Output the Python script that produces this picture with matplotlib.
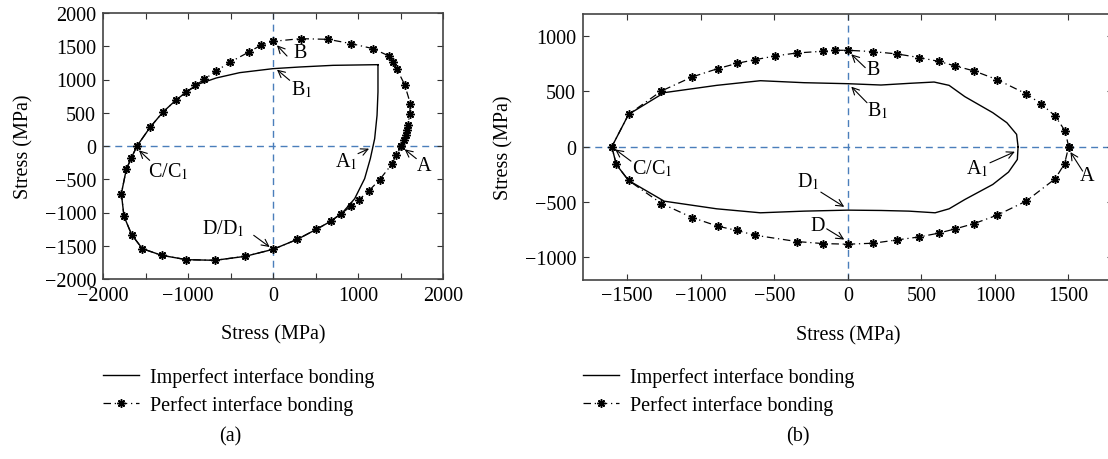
import numpy as np
import matplotlib.pyplot as plt

plt.rcParams['font.family'] = ['Liberation Serif', 'DejaVu Serif']
plt.rcParams['mathtext.fontset'] = 'stix'
plt.rcParams['axes.unicode_minus'] = True

# ---- panel (a) data ----
a_perf_x = [1510, 1541, 1561, 1577, 1588, 1608, 1616, 1549, 1459, 1412, 1365, 1177, 922, 647, 326, 0,
            -145, -282, -502, -675, -808, -914, -1020, -1145, -1294, -1443, -1600, -1667, -1726, -1784,
            -1753, -1663, -1537, -1310, -1020, -682, -326, 0, 286, 510, 678, 804, 914, 1012, 1126, 1255,
            1396, 1451, 1510]
a_perf_y = [0, 85, 160, 236, 311, 486, 637, 922, 1153, 1263, 1353, 1464, 1539, 1604, 1614, 1574,
            1514, 1414, 1263, 1123, 1003, 912, 812, 687, 511, 286, 0, -180, -351, -717,
            -1058, -1333, -1544, -1644, -1709, -1719, -1659, -1554, -1404, -1253, -1133, -1018, -907, -807, -677, -506,
            -276, -140, 0]
a_imp_x = [1235, 706, 314, 0, -392, -667, -863, -1020, -1145, -1294, -1443, -1600, -1667, -1726, -1784,
           -1753, -1663, -1537, -1310, -1020, -682, -326, 0, 286, 510, 678, 824, 961, 1078, 1145, 1196,
           1224, 1235, 1235]
a_imp_y = [1223, 1213, 1188, 1163, 1103, 1023, 937, 812, 687, 511, 286, 0, -180, -351, -717,
           -1058, -1333, -1544, -1644, -1709, -1719, -1659, -1554, -1404, -1253, -1133, -993, -792, -491, -190, 110,
           461, 812, 1223]

# ---- panel (b) data ----
b_perf_x = [1502, 1478, 1410, 1314, 1212, 1017, 860, 732, 618, 487, 335, 174, 0, -88, -171, -345, -492,
            -630, -753, -884, -1058, -1267, -1490, -1604, -1574, -1490, -1267, -1058, -884, -753, -630,
            -345, -171, 0, 174, 335, 487, 618, 732, 860, 1017, 1212, 1410, 1474, 1502]
b_perf_y = [0, 142, 278, 389, 479, 606, 685, 730, 772, 806, 839, 860, 872, 872, 863, 848, 821,
            787, 754, 706, 631, 504, 293, 0, -160, -305, -513, -640, -718, -757, -800,
            -857, -875, -881, -872, -842, -815, -781, -742, -694, -618, -492, -290, -154, 0]
b_imp_x = [1158, 1148, 1082, 986, 796, 689, 587, 416, 226, 0, -297, -594, -891, -1248, -1490, -1604,
           -1574, -1490, -1248, -891, -594, -297, 0, 226, 416, 594, 689, 796, 986, 1093, 1153, 1158]
b_imp_y = [0, 112, 217, 308, 453, 555, 585, 573, 558, 570, 579, 597, 555, 489, 293, 0,
           -160, -305, -492, -561, -597, -582, -573, -576, -582, -597, -561, -477, -341, -229, -115, 0]

# label, text position, arrow tail, arrow tip
a_notes = [('B', (325, 1404), (165, 1353), (47, 1514)),
           ('B$_1$', (333, 862), (196, 988), (47, 1148)),
           ('A$_1$', (863, -231), (1000, -115), (1130, -40)),
           ('A', (1773, -291), (1686, -190), (1549, -50)),
           ('C/C$_1$', (-1235, -381), (-1451, -216), (-1577, -65)),
           ('D/D$_1$', (-580, -1233), (-227, -1343), (-39, -1519))]
b_notes = [('B', (174, 694), (119, 715), (24, 836)),
           ('B$_1$', (202, 332), (131, 398), (24, 543)),
           ('A$_1$', (880, -190), (967, -145), (1136, -45)),
           ('A', (1628, -256), (1597, -220), (1514, -48)),
           ('C/C$_1$', (-1331, -190), (-1474, -130), (-1581, -24)),
           ('D$_1$', (-269, -311), (-183, -410), (-24, -543)),
           ('D', (-207, -712), (-143, -742), (-24, -839))]

fs = 14.5
W, H = 1108, 460
fig = plt.figure(figsize=(W / 100, H / 100), dpi=100)
ax1 = fig.add_axes([103 / W, 1 - 280 / H, 340 / W, 266 / H])
ax2 = fig.add_axes([583 / W, 1 - 280.5 / H, 529.5 / W, 265.5 / H])

zero_c = '#4a7ebb'


def draw(ax, px, py, ix, iy, notes):
    ax.axhline(0, color=zero_c, lw=1, ls=(0, (5, 3.5)), zorder=1)
    ax.axvline(0, color=zero_c, lw=1, ls=(0, (5, 3.5)), zorder=1)
    ax.plot(ix, iy, color='k', lw=1, label='Imperfect interface bonding', zorder=2)
    ax.plot(px, py, color='k', lw=0.9, ls=(0, (6, 3, 1, 3)), marker=(8, 2, 0), ms=6,
            mew=1.1, label='Perfect interface bonding', zorder=3)
    for txt, tp, tail, tip in notes:
        ax.text(tp[0], tp[1], txt, fontsize=fs, ha='center', va='center')
        ax.annotate('', xy=tip, xytext=tail,
                    arrowprops=dict(arrowstyle='->,head_length=0.5,head_width=0.25', lw=0.8,
                                    color='k', shrinkA=0, shrinkB=0))
    ax.tick_params(direction='in', top=True, right=True, labelsize=fs, length=4,
                   width=0.8, color='#333333', pad=5)
    for s in ax.spines.values():
        s.set_color('#444444')
        s.set_linewidth(1.2)
    ax.set_xlabel('Stress (MPa)', fontsize=fs, labelpad=14)
    ax.set_ylabel('Stress (MPa)', fontsize=fs, labelpad=8)
    leg = ax.legend(loc='upper left', bbox_to_anchor=(0, -0.33), frameon=False, fontsize=fs,
                    handlelength=1.8, handletextpad=0.55, labelspacing=0.4, borderpad=0,
                    borderaxespad=0, numpoints=1)
    return leg


draw(ax1, a_perf_x, a_perf_y, a_imp_x, a_imp_y, a_notes)
ax1.set_xlim(-2000, 2000)
ax1.set_ylim(-2000, 2000)
ax1.set_xticks(np.arange(-2000, 2001, 500))
ax1.set_xticklabels([str(v).replace('-', '\u2212') if v % 1000 == 0 else '' for v in range(-2000, 2001, 500)])
ax1.set_yticks(np.arange(-2000, 2001, 500))

draw(ax2, b_perf_x, b_perf_y, b_imp_x, b_imp_y, b_notes)
ax2.set_xlim(-1800, 1800)
ax2.set_ylim(-1200, 1200)
ax2.set_xticks(np.arange(-1500, 1501, 500))
ax2.set_yticks(np.arange(-1000, 1001, 500))

fig.text(230 / W, 1 - 437 / H, '(a)', fontsize=fs, ha='center', va='center')
fig.text(798 / W, 1 - 437 / H, '(b)', fontsize=fs, ha='center', va='center')

fig.savefig('out.png', dpi=100)
